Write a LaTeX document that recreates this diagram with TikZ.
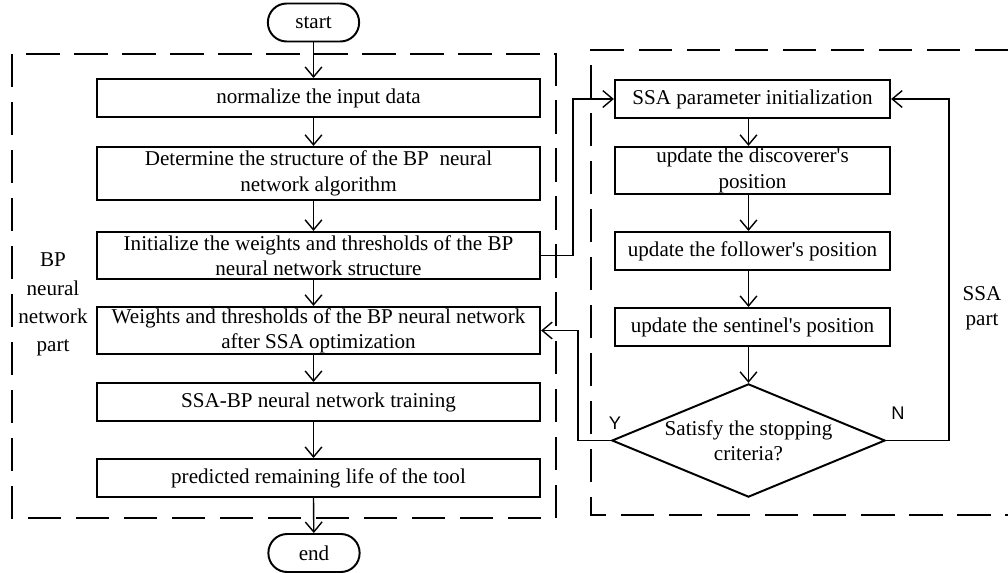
\documentclass[tikz,border=0pt]{standalone}
\usepackage{fontspec}
\setmainfont{Liberation Serif}
\setsansfont{Liberation Sans}
\usepackage{tikz}
\usetikzlibrary{arrows.meta}
\usetikzlibrary{shapes.geometric}

\tikzset{
  box/.style={draw,line width=1.4pt,inner sep=0pt,align=center},
  lbox/.style={box,minimum width=11.08cm},
  rbox/.style={box,minimum width=6.88cm},
  term/.style={draw,line width=1.4pt,rounded corners=0.47cm,minimum width=2.28cm,minimum height=0.95cm,inner sep=0pt},
  dec/.style={draw,diamond,line width=1.4pt,aspect=2.42,inner xsep=-0.15cm,inner ysep=-0.08cm,minimum width=6.83cm,minimum height=2.83cm,align=center},
  flow/.style={line width=1pt,-{Straight Barb[length=0.25cm,width=0.42cm,line width=1pt]}},
  part/.style={line width=2.1pt,dash pattern=on 0.83cm off 0.37cm},
  yn/.style={font=\sffamily\fontsize{13}{15}\selectfont},
}

\begin{document}
\begin{tikzpicture}[x=0.025cm,y=-0.025cm]\fontsize{15}{18}\selectfont
            \useasboundingbox (0,0) rectangle (1008,573);
            % dashed parts
            \draw[part](12,54) rectangle (556,518);
            \draw[part](1008,50)--(591,50)--(591,515)--(1008,515);
            \node[align=center,font=\fontsize{15}{20}\selectfont](bplab) at (53,304.5) {BP\\neural\\network\\part};
            \node[align=center](ssalab) at (982,308.5) {SSA\\part};
            % left column
            \node[term](start) at (313.5,22.5) {start};
            \node[lbox,minimum height=0.95cm](n1) at (318.5,98) {normalize the input data};
            \node[lbox,minimum height=1.33cm](n2) at (318.5,173.5) {Determine the structure of the BP~ neural\\network algorithm};
            \node[lbox,minimum height=1.18cm](n3) at (318.5,255.5) {Initialize the weights and thresholds of the BP\\neural network structure};
            \node[lbox,minimum height=1.18cm](n4) at (318.5,330.5) {Weights and thresholds of the BP neural network\\after SSA optimization};
            \node[lbox,minimum height=0.95cm](n5) at (318.5,402) {SSA-BP neural network training};
            \node[lbox,minimum height=0.95cm](n6) at (318.5,478) {predicted remaining life of the tool};
            \node[term](stop) at (314,553) {end};
            % right column
            \node[rbox,minimum height=0.95cm](r1) at (752.5,99) {SSA parameter initialization};
            \node[rbox,minimum height=1.18cm](r2) at (752.5,170.5) {update the discoverer\textquotesingle s\\position};
            \node[rbox,minimum height=0.95cm](r3) at (752.5,251) {update the follower\textquotesingle s position};
            \node[rbox,minimum height=0.95cm](r4) at (752.5,327) {update the sentinel\textquotesingle s position};
            \node[dec](dia) at (748.5,440.5) {Satisfy the stopping\\criteria?};
            \coordinate (kA) at (573,0);
            \coordinate (kY) at (578,0);
            \coordinate (kN) at (949,0);
            % arrows
            \draw[flow](start)--(n1.north -| start);
            \draw[flow](n1.south -| start)--(n2.north -| start);
            \draw[flow](n2.south -| start)--(n3.north -| start);
            \draw[flow](n3.south -| start)--(n4.north -| start);
            \draw[flow](n4.south -| start)--(n5.north -| start);
            \draw[flow](n5.south -| start)--(n6.north -| start);
            \draw[flow](n6.south -| start)--(stop);
            \draw[flow](n3.east)--(n3.east -| kA)|-(r1.west);
            \draw[flow](r1.south -| dia)--(r2.north -| dia);
            \draw[flow](r2.south -| dia)--(r3.north -| dia);
            \draw[flow](r3.south -| dia)--(r4.north -| dia);
            \draw[flow](r4.south -| dia)--(dia.north);
            \draw[flow](dia.east)--(dia.east -| kN)|-(r1.east);
            \draw[flow](dia.west)--(dia.west -| kY)|-(n4.east);
            \node[yn](ylab) at (615,423) {Y};
            \node[yn](nlab) at (898,413) {N};
        \end{tikzpicture}
\end{document}
